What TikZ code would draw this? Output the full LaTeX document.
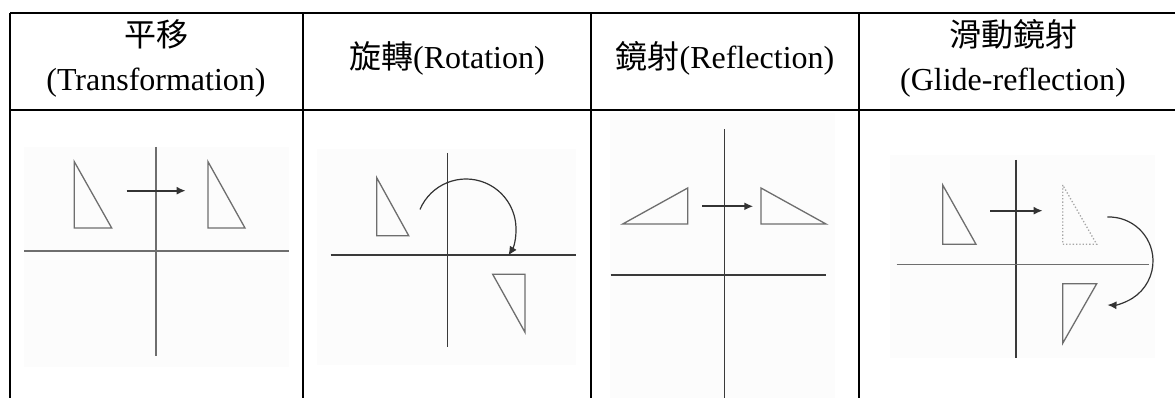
\documentclass[tikz,border=0pt]{standalone}
\usepackage{fontspec}
\setmainfont{Liberation Serif}
\newfontfamily\cjk{Noto Sans CJK TC}
\definecolor{trazoGris}{HTML}{6E6E6E}
\definecolor{trazoOscuro}{HTML}{3A3A3A}
\definecolor{fondoPanel}{HTML}{FCFCFC}
\usetikzlibrary{
	arrows.meta,
	positioning
}
\tikzset{
	tabla/.style={
		line width=2.2pt,
		black
	},
	eje/.style={
		line width=1.6pt,
		trazoGris
	},
	ejeOscuro/.style={
		line width=1.3pt,
		trazoOscuro
	},
	triangulo/.style={
		line width=1.3pt,
		trazoGris,
		line join=miter
	},
	fantasma/.style={
		line width=1.3pt,
		black!35,
		dotted
	},
	fondo/.style={
		fill=fondoPanel,
		draw=none
	},
	flecha/.style={
		-{Latex[length=9pt,width=8pt]},
		line width=1.8pt,
		black!80
	},
	giro/.style={
		-{Latex[length=9pt,width=8pt]},
		line width=1.2pt,
		black!80
	},
	encabezado/.style={
		align=center,
		inner sep=0pt,
		font=\fontsize{32}{44}\selectfont
	}
}
\begin{document}
\begin{tikzpicture}[x=1pt,y=-1pt]
		\useasboundingbox (0,0) rectangle (1175,398);
		\fill[white] (0,0) rectangle (1175,398);
		% fondos de las figuras
		\path[fondo] (24,147) rectangle (289,367);
		\path[fondo] (317,149) rectangle (576,365);
		\path[fondo] (610,113) rectangle (835,398);
		\path[fondo] (890,155) rectangle (1155,358);
		% tabla
		\draw[tabla] (10,13) -- (1175,13);
		\draw[tabla] (10,110) -- (1175,110);
		\foreach \x in {10,303,591,859}{
			\draw[tabla] (\x,13) -- (\x,398);
		}
		\node[encabezado] (tituloA) at (156,58) {{\cjk 平移}\\(Transformation)};
		\node[encabezado] (tituloB) at (447,58) {{\cjk 旋轉}(Rotation)};
		\node[encabezado] (tituloC) at (725,58) {{\cjk 鏡射}(Reflection)};
		\node[encabezado] (tituloD) at (1013,58) {{\cjk 滑動鏡射}\\(Glide-reflection)};
		% traslacion
		\draw[eje] (155.7,147) -- (155.7,356);
		\draw[eje] (24,251) -- (289,251);
		\draw[triangulo] (74.3,161.7) -- (74.3,228) -- (111.7,228) -- cycle;
		\draw[triangulo] (208,161.7) -- (208,228) -- (245,228) -- cycle;
		\coordinate (trasIni) at (126.7,190.7);
		\coordinate (trasFin) at (185.7,190.7);
		\draw[flecha] (trasIni) -- (trasFin);
		% rotacion
		\draw[ejeOscuro] (447.7,153) -- (447.7,346.7);
		\draw[ejeOscuro] (330.7,255) -- (575.7,255);
		\draw[triangulo] (376.7,177.7) -- (376.7,235.7) -- (408.7,235.7) -- cycle;
		\draw[triangulo] (492.7,274.3) -- (525,274.3) -- (525,332.3) -- cycle;
		\coordinate (rotCentro) at (466,229);
		\draw[giro] (rotCentro) ++(203:50) arc[start angle=203, end angle=392, radius=50];
		% reflexion
		\draw[ejeOscuro] (724.7,129.3) -- (724.7,398);
		\draw[ejeOscuro] (610.7,275) -- (826,275);
		\draw[triangulo] (622.7,224) -- (687.7,188) -- (687.7,224) -- cycle;
		\draw[triangulo] (761,188) -- (761,224) -- (826,224) -- cycle;
		\coordinate (refIni) at (702.3,206.3);
		\coordinate (refFin) at (753.3,206.3);
		\draw[flecha] (refIni) -- (refFin);
		% reflexion con deslizamiento
		\draw[ejeOscuro] (1016,160) -- (1016,357.7);
		\draw[eje] (896.7,264.3) -- (1149.3,264.3);
		\draw[triangulo] (942.7,185) -- (942.7,244.3) -- (976,244.3) -- cycle;
		\draw[fantasma] (1062.7,185) -- (1062.7,244.3) -- (1096.7,244.3) -- cycle;
		\draw[triangulo] (1062.7,283.7) -- (1096.7,283.7) -- (1062.7,343.3) -- cycle;
		\coordinate (desIni) at (990,210.7);
		\coordinate (desFin) at (1042.7,210.7);
		\draw[flecha] (desIni) -- (desFin);
		\coordinate (desCentro) at (1109,261);
		\draw[giro] (desCentro) ++(268:44) arc[start angle=268, end angle=452, radius=44];
	\end{tikzpicture}
\end{document}
